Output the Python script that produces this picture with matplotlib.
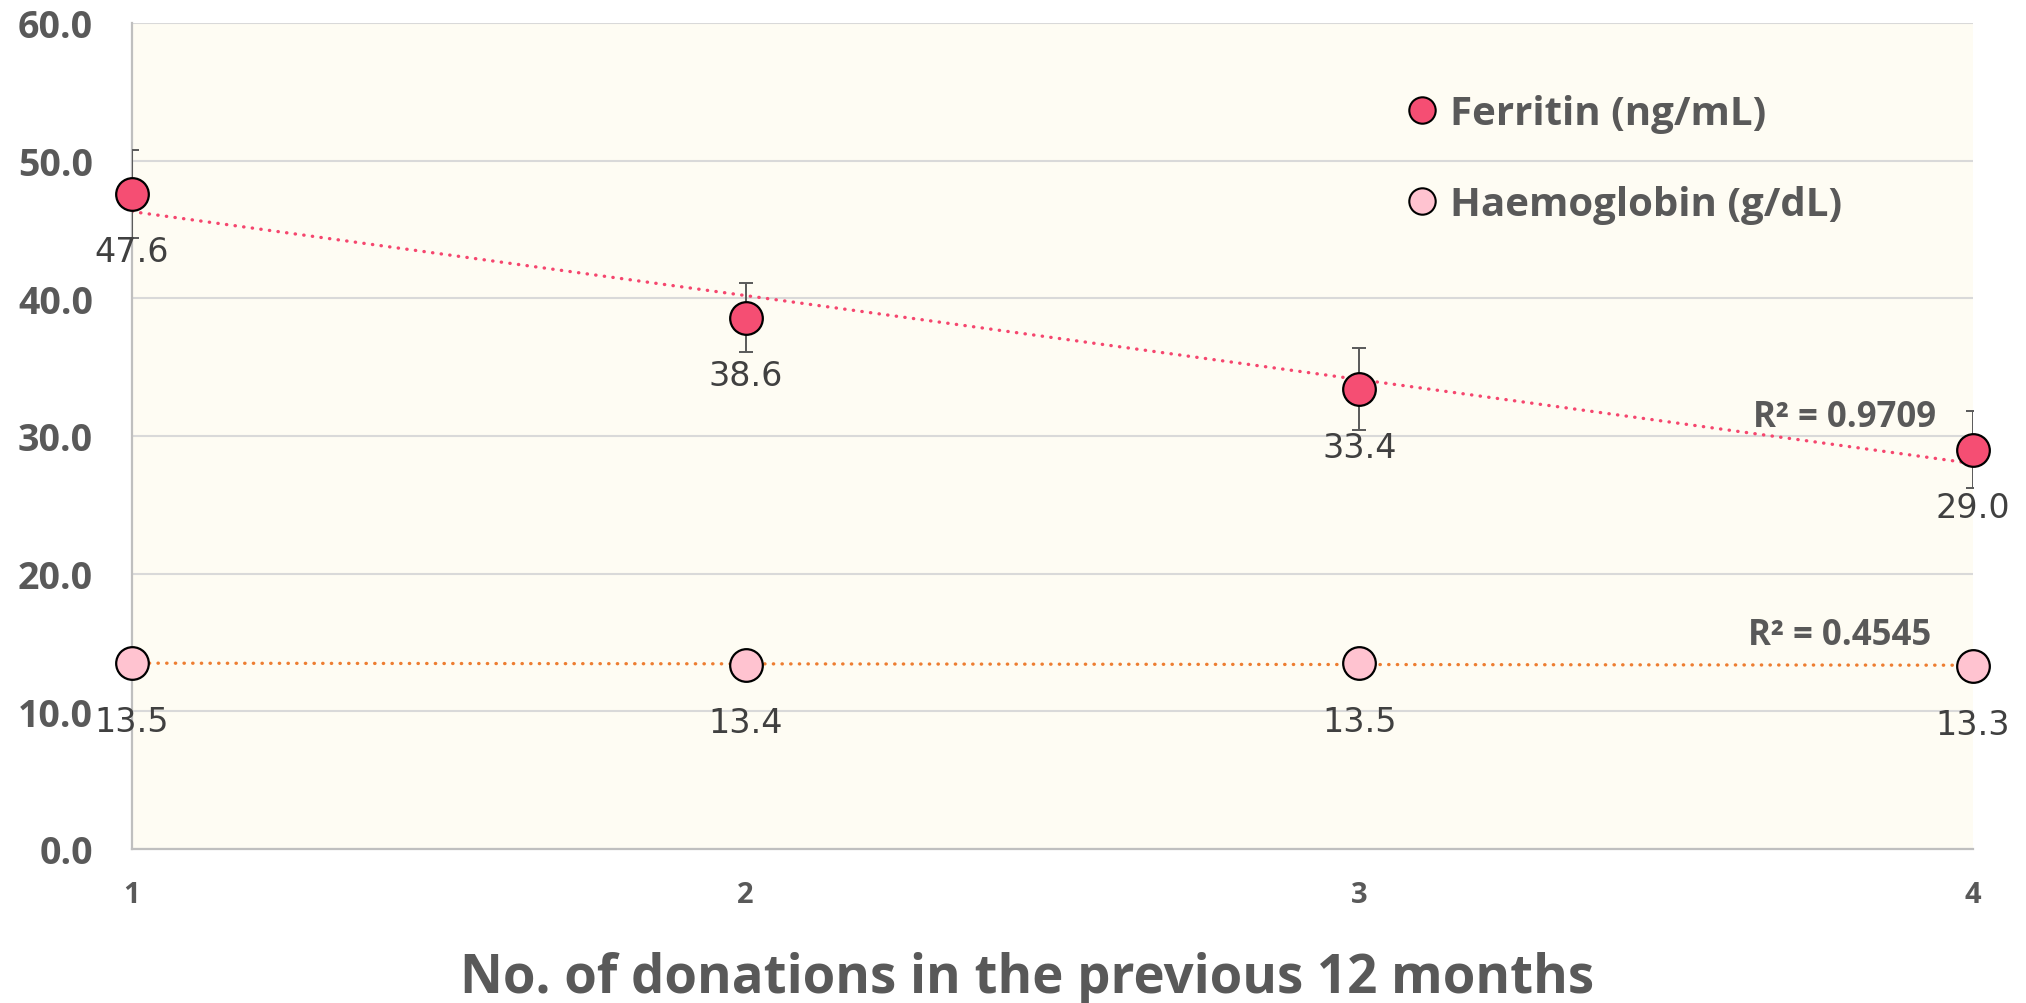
import numpy as np
import matplotlib
matplotlib.use("Agg")
import matplotlib.pyplot as plt

donations = [1, 2, 3, 4]
ferritin = [47.6, 38.6, 33.4, 29.0]
ferritin_err = [3.2, 2.5, 3.0, 2.8]
haemoglobin = [13.5, 13.4, 13.5, 13.3]
haemoglobin_err = [0.1, 0.1, 0.1, 0.1]
r2_labels = ["R\u00b2 = 0.9709", "R\u00b2 = 0.4545"]
series_names = ["Ferritin (ng/mL)", "Haemoglobin (g/dL)"]
y_ticks = [0, 10, 20, 30, 40, 50, 60]

plt.rcParams['font.family'] = ['Open Sans', 'DejaVu Sans']

fig = plt.figure(figsize=(20.26, 10.04), dpi=100)
ax = fig.add_axes([132 / 2026, 1 - 850 / 1004, (1973 - 132) / 2026, (850 - 24) / 1004])
ax.set_facecolor('#FEFCF3')

gray = '#595959'
red = '#F54E73'
pink = '#FFC3D0'

# trendlines
xs = np.array(donations, dtype=float)
for vals, col in [(ferritin, '#F5466E'), (haemoglobin, '#ED7D31')]:
    k, b = np.polyfit(xs, vals, 1)
    ax.plot([1, 4], [k * 1 + b, k * 4 + b], color=col, lw=2.4,
            linestyle=(0, (0.1, 2.5)), dash_capstyle='round', zorder=2)

ax.errorbar(donations, ferritin, yerr=ferritin_err, fmt='none', ecolor=gray,
            elinewidth=1.4, capsize=5, capthick=1.4, zorder=3)
ax.errorbar(donations, haemoglobin, yerr=haemoglobin_err, fmt='none', ecolor=gray,
            elinewidth=1.4, capsize=5, capthick=1.4, zorder=3)

ax.plot(donations, ferritin, 'o', ms=23.5, mfc=red, mec='black', mew=1.6,
        ls='none', clip_on=False, zorder=4)
ax.plot(donations, haemoglobin, 'o', ms=23.5, mfc=pink, mec='black', mew=1.6,
        ls='none', clip_on=False, zorder=4)

for x, y in zip(donations, ferritin):
    ax.annotate(f"{y:.1f}", (x, y), xytext=(0, -30), textcoords='offset points',
                ha='center', va='top', fontsize=24, color='#404040',
                family='DejaVu Sans', zorder=5)
for x, y in zip(donations, haemoglobin):
    ax.annotate(f"{y:.1f}", (x, y), xytext=(0, -30), textcoords='offset points',
                ha='center', va='top', fontsize=24, color='#404040',
                family='DejaVu Sans', zorder=5)

ax.text(1845 / 2026, 1 - 418 / 1004, r2_labels[0], transform=fig.transFigure,
        ha='center', va='center', fontsize=25, fontweight='bold', color=gray)
ax.text(1840 / 2026, 1 - 636 / 1004, r2_labels[1], transform=fig.transFigure,
        ha='center', va='center', fontsize=25, fontweight='bold', color=gray)

ax.set_xlim(1, 4)
ax.set_ylim(0, 60)
ax.set_xticks(donations)
ax.set_yticks(y_ticks)
ax.set_yticklabels([f"{v:.1f}" for v in y_ticks])
ax.tick_params(axis='y', length=0, pad=28, labelsize=27, labelcolor=gray)
ax.tick_params(axis='x', length=0, pad=22, labelsize=21, labelcolor=gray)
for lab in ax.get_xticklabels() + ax.get_yticklabels():
    lab.set_fontweight('bold')

ax.grid(axis='y', color='#D9D9D9', lw=1.5)
ax.set_axisbelow(True)
for s in ['top', 'right']:
    ax.spines[s].set_visible(False)
for s in ['left', 'bottom']:
    ax.spines[s].set_color('#BFBFBF')
    ax.spines[s].set_linewidth(1.6)

# legend
h1, = ax.plot([], [], 'o', ms=19, mfc=red, mec='black', mew=1.5, ls='none')
h2, = ax.plot([], [], 'o', ms=19, mfc=pink, mec='black', mew=1.5, ls='none')
leg = fig.legend([h1, h2], series_names, loc='center left',
                 bbox_to_anchor=(1380 / 2026, 1 - 160 / 1004), frameon=False,
                 prop={'size': 29, 'weight': 'bold'}, handletextpad=0.15,
                 labelspacing=1.3, handlelength=1.1, borderpad=0)
for t in leg.get_texts():
    t.set_color(gray)

fig.text(1027 / 2026, 1 - 993 / 1004, "No. of donations in the previous 12 months",
         ha='center', va='baseline', fontsize=38, fontweight='bold', color=gray)

fig.savefig("out.png", dpi=100)
